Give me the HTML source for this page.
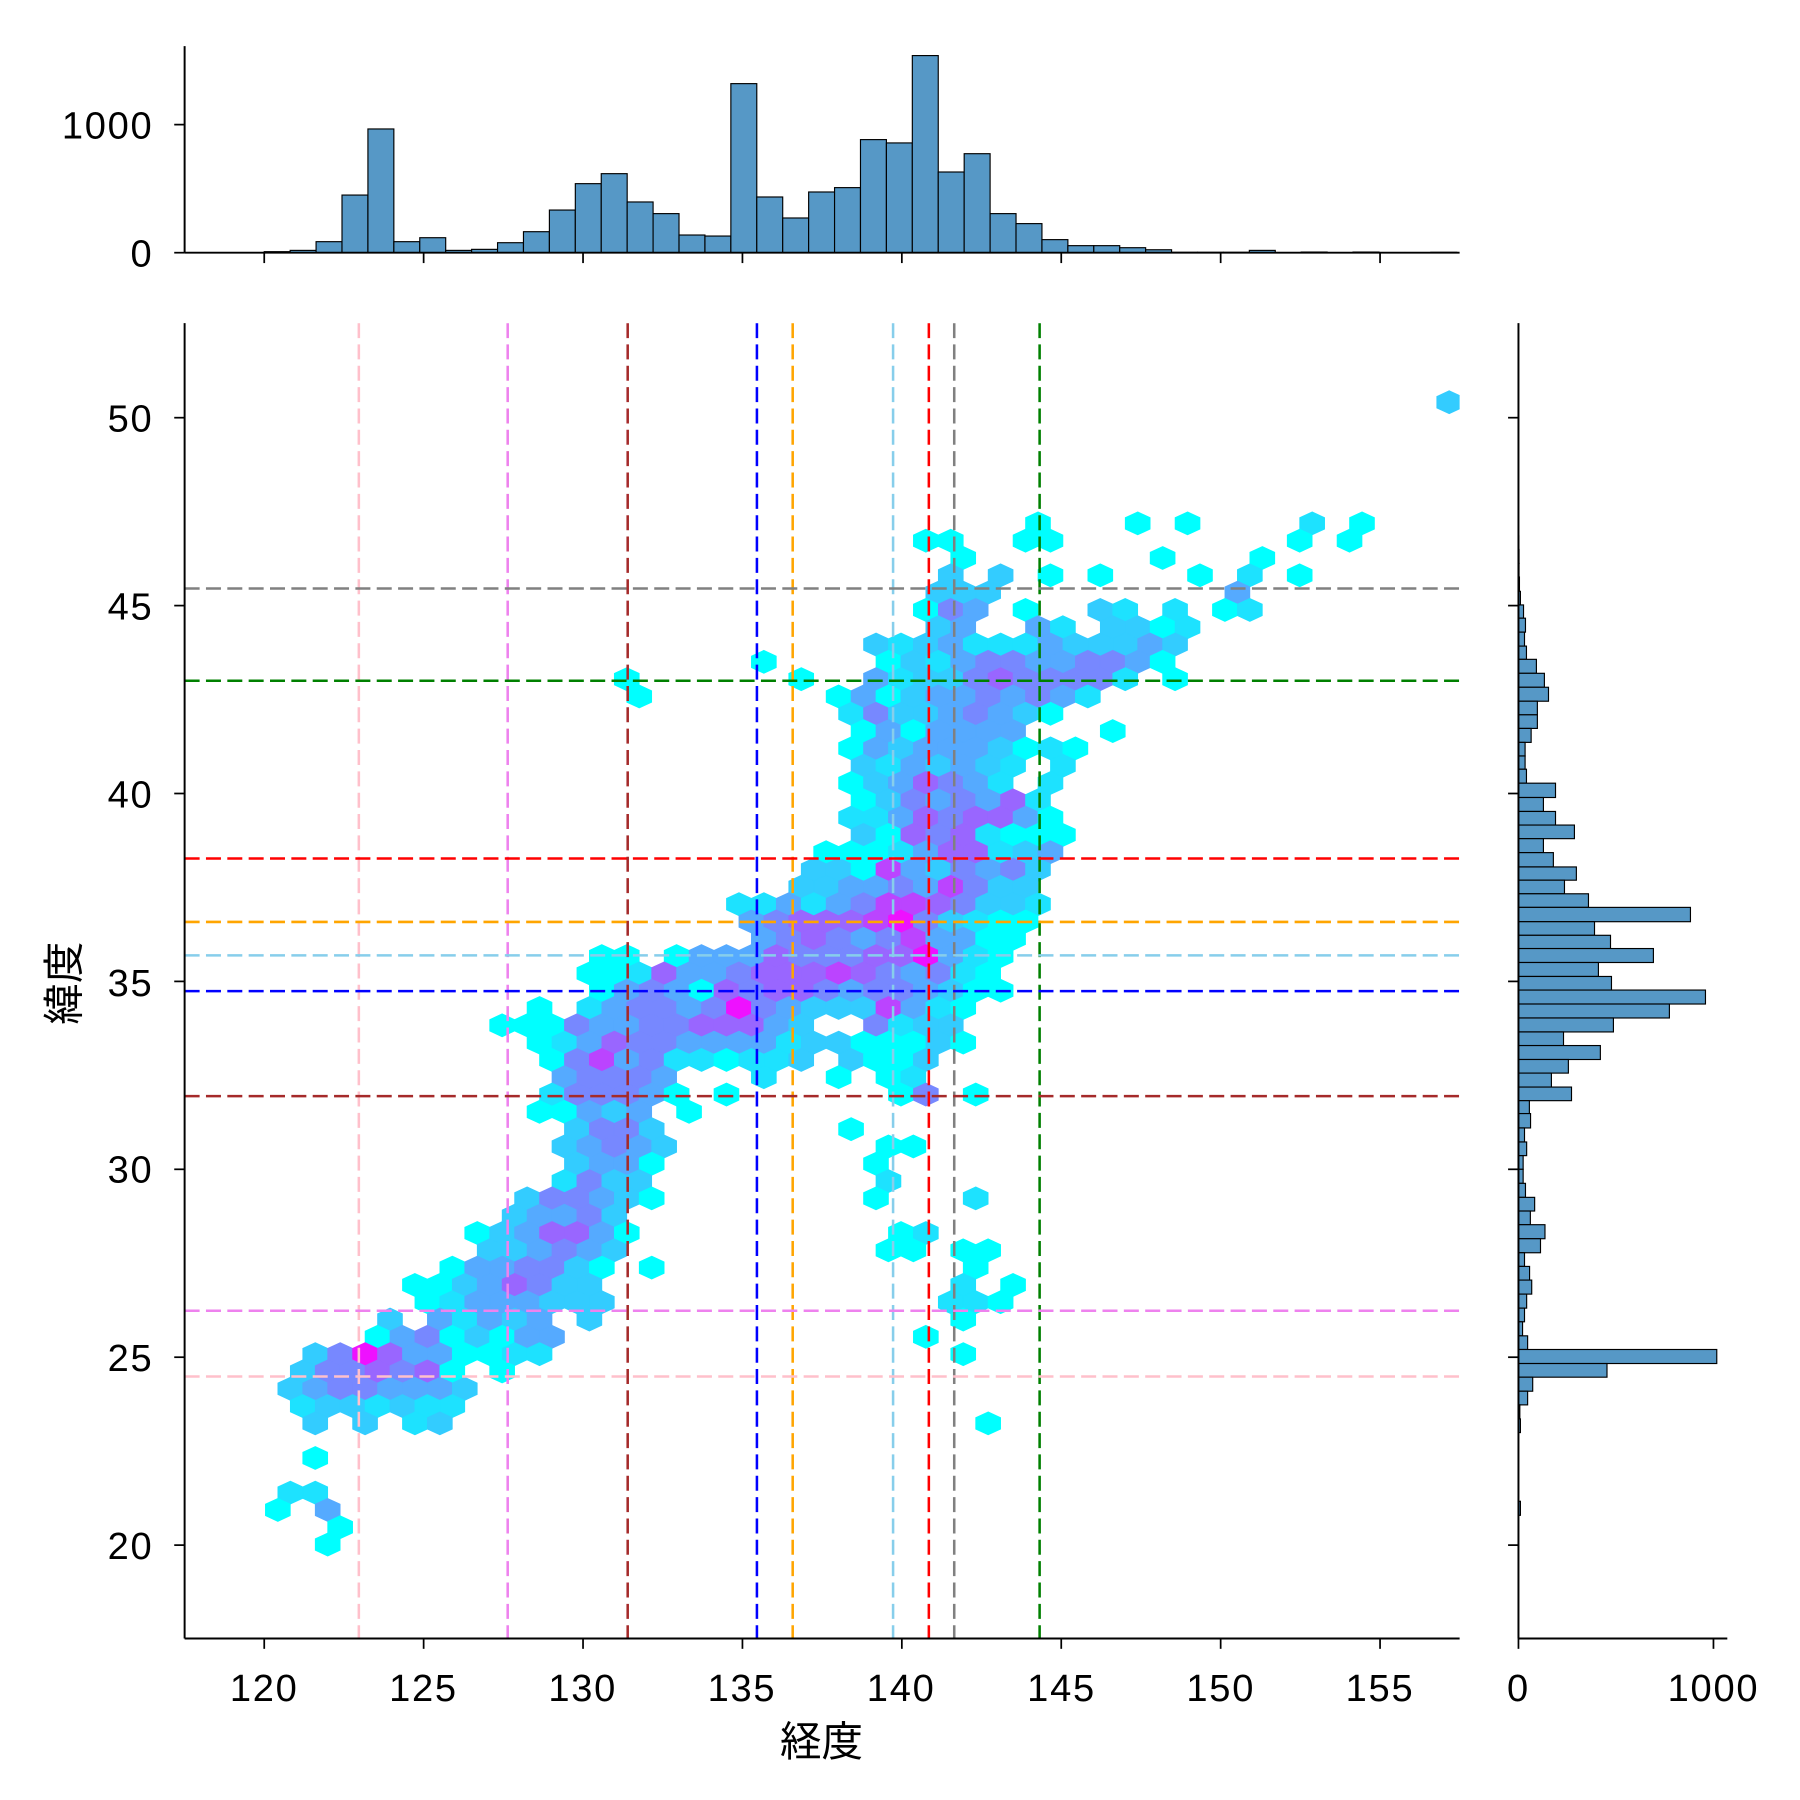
<!DOCTYPE html>
<html><head><meta charset="utf-8"><style>
html,body{margin:0;padding:0;background:#fff;}
svg{display:block;}
text{font-family:"Liberation Sans","Noto Sans CJK JP",sans-serif;fill:#000;}
</style></head><body>
<svg id="s" xmlns="http://www.w3.org/2000/svg" width="1800" height="1800" viewBox="0 0 1560 1560">
<rect width="1560" height="1560" fill="#fff"/>
<defs><clipPath id="mc"><rect x="160" y="280" width="1105" height="1140"/></clipPath></defs>
<g id="hex" clip-path="url(#mc)"></g>
<g id="lines" clip-path="url(#mc)" stroke-width="2.2" stroke-dasharray="13 5.5" fill="none">
<line x1="311" y1="280" x2="311" y2="1420" stroke="#ffc0cb"/>
<line x1="440" y1="280" x2="440" y2="1420" stroke="#ee82ee"/>
<line x1="544" y1="280" x2="544" y2="1420" stroke="#a52a2a"/>
<line x1="656" y1="280" x2="656" y2="1420" stroke="#0000ff"/>
<line x1="687" y1="280" x2="687" y2="1420" stroke="#ffa500"/>
<line x1="774" y1="280" x2="774" y2="1420" stroke="#87ceeb"/>
<line x1="805" y1="280" x2="805" y2="1420" stroke="#ff0000"/>
<line x1="827" y1="280" x2="827" y2="1420" stroke="#808080"/>
<line x1="901" y1="280" x2="901" y2="1420" stroke="#008000"/>
<line x1="160" y1="510" x2="1265" y2="510" stroke="#808080"/>
<line x1="160" y1="590" x2="1265" y2="590" stroke="#008000"/>
<line x1="160" y1="744" x2="1265" y2="744" stroke="#ff0000"/>
<line x1="160" y1="799" x2="1265" y2="799" stroke="#ffa500"/>
<line x1="160" y1="828" x2="1265" y2="828" stroke="#87ceeb"/>
<line x1="160" y1="859" x2="1265" y2="859" stroke="#0000ff"/>
<line x1="160" y1="950" x2="1265" y2="950" stroke="#a52a2a"/>
<line x1="160" y1="1136" x2="1265" y2="1136" stroke="#ee82ee"/>
<line x1="160" y1="1193" x2="1265" y2="1193" stroke="#ffc0cb"/>
</g>
<g id="tophist"></g>
<g id="righthist"></g>
<g id="axes" stroke="#000" fill="none">
<line x1="160" y1="280" x2="160" y2="1420" stroke-width="1.7"/>
<line x1="160" y1="1420" x2="1265" y2="1420" stroke-width="1.7"/>
<line x1="160" y1="40" x2="160" y2="219" stroke-width="1.7"/>
<line x1="160" y1="219" x2="1265" y2="219" stroke-width="1.7"/>
<line x1="1316" y1="280" x2="1316" y2="1420" stroke-width="1.7"/>
<line x1="1316" y1="1420" x2="1497" y2="1420" stroke-width="1.7"/>
</g>
<g id="ticks" stroke="#000" stroke-width="1.5"></g>
<g font-size="33" letter-spacing="1.5">
<text x="229" y="1474" text-anchor="middle">120</text>
<text x="367" y="1474" text-anchor="middle">125</text>
<text x="505" y="1474" text-anchor="middle">130</text>
<text x="643" y="1474" text-anchor="middle">135</text>
<text x="781" y="1474" text-anchor="middle">140</text>
<text x="920" y="1474" text-anchor="middle">145</text>
<text x="1058" y="1474" text-anchor="middle">150</text>
<text x="1196" y="1474" text-anchor="middle">155</text>
<text x="1316" y="1474" text-anchor="middle">0</text>
<text x="1485" y="1474" text-anchor="middle">1000</text>
<text x="133" y="374" text-anchor="end">50</text>
<text x="133" y="537" text-anchor="end">45</text>
<text x="133" y="700" text-anchor="end">40</text>
<text x="133" y="863" text-anchor="end">35</text>
<text x="133" y="1025" text-anchor="end">30</text>
<text x="133" y="1188" text-anchor="end">25</text>
<text x="133" y="1351" text-anchor="end">20</text>
<text x="133" y="120" text-anchor="end">1000</text>
<text x="133" y="231" text-anchor="end">0</text>
</g>
<g font-size="36">
<text x="712" y="1522" text-anchor="middle">経度</text>
<text x="0" y="0" text-anchor="middle" transform="translate(68,852) rotate(-90)">緯度</text>
</g>
</svg>
<script>
(function(){
var NS="http://www.w3.org/2000/svg";
function el(t,a,p){var e=document.createElementNS(NS,t);for(var k in a)e.setAttribute(k,a[k]);p.appendChild(e);return e;}
var cols=["#00ffff","#1de2ff","#33ccff","#55aaff","#7788ff","#9966ff","#bb44ff","#ee11ff"];
var rows={
"-7":"25,2",
"0":"-8,0 0,0 4,0 14,1 18,0",
"1":"-17,0 -15,0 -9,0 -7,0 13,0 17,0",
"2":"-14,0 2,0 10,0",
"3":"-15,2 -11,2 -7,0 -3,0 5,0 9,1 13,0",
"4":"-16,2 -14,2 -12,2 8,3",
"5":"-17,0 -15,4 -13,3 -9,0 -3,2 -1,1 3,1 7,0 9,1",
"6":"-16,2 -14,3 -8,3 -6,1 -2,2 0,2 2,0 4,1",
"7":"-21,2 -19,1 -17,2 -15,3 -13,1 -11,1 -9,1 -7,3 -5,2 -3,2 -1,2 1,3 3,2",
"8":"-30,0 -20,0 -18,2 -16,1 -14,3 -12,4 -10,4 -8,3 -6,3 -4,4 -2,4 0,3 2,0",
"9":"-41,0 -27,0 -21,3 -19,1 -17,2 -15,2 -13,4 -11,5 -9,4 -7,4 -5,4 -3,4 -1,1 3,0",
"10":"-40,0 -24,0 -22,3 -20,0 -18,2 -16,3 -14,3 -12,4 -10,3 -8,4 -6,3 -4,1",
"11":"-23,1 -21,4 -19,2 -17,2 -15,3 -13,4 -11,3 -9,2 -7,0",
"12":"-22,0 -20,3 -18,0 -16,3 -14,3 -12,3 -10,3 -2,0",
"13":"-23,0 -21,3 -19,2 -17,3 -15,3 -13,3 -11,2 -9,0 -7,1 -5,0",
"14":"-22,2 -20,1 -18,3 -16,2 -14,3 -12,2 -10,1 -6,1",
"15":"-23,0 -21,2 -19,3 -17,5 -15,4 -13,3 -11,1 -7,1",
"16":"-22,0 -20,2 -18,4 -16,3 -14,4 -12,3 -10,5 -8,1",
"17":"-23,1 -21,1 -19,3 -17,5 -15,4 -13,5 -11,5 -9,3 -7,0",
"18":"-22,2 -20,0 -18,5 -16,4 -14,5 -12,1 -10,0 -8,0 -6,0",
"19":"-25,0 -23,0 -21,0 -19,1 -17,3 -15,5 -13,5 -11,1 -9,2 -7,3",
"20":"-26,2 -24,2 -22,0 -20,6 -18,3 -16,2 -14,4 -12,3 -10,4 -8,2",
"21":"-27,2 -25,2 -23,3 -21,3 -19,4 -17,3 -15,6 -13,4 -11,2 -9,2",
"22":"-32,1 -30,1 -28,3 -26,1 -24,3 -22,4 -20,6 -18,6 -16,5 -14,4 -12,2 -10,2 -8,1",
"23":"-31,3 -29,4 -27,5 -25,5 -23,5 -21,6 -19,7 -17,4 -15,2 -13,1 -11,0 -9,0",
"24":"-30,3 -28,4 -26,5 -24,4 -22,3 -20,4 -18,6 -16,3 -14,3 -12,0 -10,0",
"25":"-43,0 -41,0 -37,0 -35,3 -33,3 -31,3 -29,5 -27,4 -25,4 -23,4 -21,5 -19,5 -17,7 -15,3 -13,1 -11,0",
"26":"-44,0 -42,0 -40,1 -38,5 -36,3 -34,3 -32,4 -30,5 -28,5 -26,5 -24,6 -22,5 -20,4 -18,3 -16,4 -14,1 -12,0",
"27":"-43,0 -41,3 -39,4 -37,3 -35,0 -33,5 -31,4 -29,5 -27,5 -25,4 -23,3 -21,4 -19,4 -17,3 -15,2 -13,0 -11,0",
"28":"-48,0 -44,1 -42,3 -40,4 -38,4 -36,3 -34,4 -32,7 -30,4 -28,3 -26,2 -24,2 -22,2 -20,6 -18,3 -16,1 -14,0",
"29":"-51,0 -49,0 -47,0 -45,4 -43,3 -41,3 -39,4 -37,4 -35,5 -33,5 -31,5 -29,3 -27,2 -21,4 -19,1 -17,2 -15,2",
"30":"-48,0 -46,1 -44,3 -42,5 -40,4 -38,4 -36,3 -34,3 -32,3 -30,3 -28,1 -26,2 -24,2 -22,0 -20,0 -18,0 -16,2 -14,0",
"31":"-47,0 -45,4 -43,6 -41,3 -39,4 -37,1 -35,1 -33,0 -31,1 -29,1 -27,2 -23,2 -21,0 -19,0 -17,2",
"32":"-46,3 -44,4 -42,4 -40,4 -38,3 -30,1 -24,0 -20,0 -18,1",
"33":"-47,1 -45,4 -43,4 -41,4 -39,3 -37,0 -33,0 -19,0 -17,4 -13,0",
"34":"-48,0 -46,0 -44,3 -42,2 -40,3 -36,0",
"35":"-45,2 -43,4 -41,4 -39,2 -23,0",
"36":"-46,2 -44,3 -42,4 -40,3 -38,2 -20,0 -18,0",
"37":"-45,2 -43,3 -41,3 -39,0 -21,0",
"38":"-46,1 -44,4 -42,2 -40,2 -20,1",
"39":"-49,2 -47,4 -45,4 -43,3 -41,2 -39,0 -21,0 -13,1",
"40":"-50,2 -48,3 -46,3 -44,4 -42,2",
"41":"-53,0 -51,2 -49,3 -47,5 -45,5 -43,3 -41,0 -19,0 -17,1",
"42":"-52,2 -50,2 -48,3 -46,4 -44,3 -42,2 -20,0 -18,0 -14,0 -12,0",
"43":"-55,0 -53,3 -51,3 -49,4 -47,4 -45,2 -43,0 -39,0 -13,0",
"44":"-58,0 -56,0 -54,2 -52,3 -50,5 -48,4 -46,2 -44,2 -14,1 -10,0",
"45":"-57,0 -55,1 -53,3 -51,3 -49,3 -47,2 -45,2 -43,2 -15,1 -13,1 -11,0",
"46":"-60,2 -56,3 -54,1 -52,3 -50,2 -48,3 -44,2 -14,0",
"47":"-61,0 -59,3 -57,4 -55,0 -53,2 -51,0 -49,3 -47,3 -17,0",
"48":"-66,2 -64,4 -62,7 -60,5 -58,3 -56,3 -54,0 -52,0 -50,1 -48,1 -14,0",
"49":"-67,2 -65,4 -63,4 -61,5 -59,4 -57,5 -55,0 -51,0",
"50":"-68,2 -66,3 -64,4 -62,4 -60,3 -58,3 -56,3 -54,2",
"51":"-67,1 -65,2 -63,2 -61,1 -59,2 -57,1 -55,1",
"52":"-66,2 -62,2 -58,1 -56,2 -12,0",
"54":"-66,0","56":"-68,1 -66,1","57":"-69,0 -65,3","58":"-64,0","59":"-65,0"
};
var hg=document.getElementById("hex");
var W=10.8,H=10,S=5;
for(var m in rows){
  var cy=453.6+15*(+m);
  rows[m].split(" ").forEach(function(p){
    var q=p.split(","),n=+q[0],c=cols[+q[1]];
    var cx=986+10.8*n;
    var pts=[[cx,cy-H],[cx+W,cy-S],[cx+W,cy+S],[cx,cy+H],[cx-W,cy+S],[cx-W,cy-S]].map(function(a){return a[0].toFixed(1)+","+a[1].toFixed(1);}).join(" ");
    el("polygon",{points:pts,fill:c,stroke:c,"stroke-width":"0.6"},hg);
  });
}
var th=document.getElementById("tophist");
var cnt=[8,18,86,450,966,86,117,18,26,78,164,333,539,617,396,305,138,130,1320,435,271,474,508,883,857,1539,630,773,305,227,102,55,55,39,23,3,3,3,18,1,5,1,5,1,1,3];
var x0=229,bw=(1262.5-229)/46;
cnt.forEach(function(v,i){
  var h=v*0.111;
  el("rect",{x:(x0+i*bw).toFixed(2),y:(219-h).toFixed(2),width:bw.toFixed(2),height:h.toFixed(2),fill:"#5698c6",stroke:"#000","stroke-width":"1"},th);
});
var rh=document.getElementById("righthist");
function z8(o){return 524.9+(o-115)*0.3102;}
function z9(o){return 1013.4+(o-177)*0.3117;}
var b8=[[-80,-42,2],[-42,-3,3],[-3,35,3],[35,75,5],[75,113,10],[113,150,26],[150,189,36],[189,228,31],[228,265,41],[265,304,92],[304,343,133],[343,382,154],[382,420,97],[420,458,97],[458,497,65],[497,535,34],[535,572,34],[572,611,41],[611,651,190],[651,690,128],[690,728,190],[728,766,287],[766,805,128],[805,845,179],[845,882,297],[882,920,236],[920,958,359],[958,998,882],[998,1036,390],[1036,1073,472],[1073,1112,692],[1112,1151,410],[1151,1189,477],[1189,1228,959],[1228,1267,774],[1267,1306,487],[1306,1344,231],[1344,1383,420],[1383,1421,256],[1421,1460,169],[1460,1498,272],[1498,1537,56]];
var b9=[[22,62,62],[62,101,31],[101,139,42],[139,177,24],[177,216,24],[216,255,36],[255,293,83],[293,331,61],[331,370,136],[370,409,113],[409,447,31],[447,485,57],[485,524,68],[524,563,42],[563,601,31],[601,640,21],[640,678,47],[678,717,1017],[717,755,454],[755,794,73],[794,832,47],[832,871,7],[871,909,10],[1100,1139,10]];
function rb(y1,y2,v){var w=v*0.169;el("rect",{x:1316,y:y1.toFixed(2),width:w.toFixed(2),height:(y2-y1).toFixed(2),fill:"#5698c6",stroke:"#000","stroke-width":"1"},rh);}
b8.forEach(function(b){rb(z8(b[0]),z8(b[1]),b[2]);});
b9.forEach(function(b){rb(z9(b[0]),z9(b[1]),b[2]);});
var tk=document.getElementById("ticks");
for(var v=120;v<=155;v+=5){var x=229+(v-120)*27.63;
  el("line",{x1:x,y1:1420,x2:x,y2:1429},tk);
  el("line",{x1:x,y1:219,x2:x,y2:228},tk);}
for(var v=20;v<=50;v+=5){var y=362+(50-v)*32.57;
  el("line",{x1:151,y1:y,x2:160,y2:y},tk);
  el("line",{x1:1307,y1:y,x2:1316,y2:y},tk);}
el("line",{x1:151,y1:108,x2:160,y2:108},tk);
el("line",{x1:151,y1:219,x2:160,y2:219},tk);
el("line",{x1:1316,y1:1420,x2:1316,y2:1429},tk);
el("line",{x1:1485,y1:1420,x2:1485,y2:1429},tk);
})();
</script>
</body></html>
